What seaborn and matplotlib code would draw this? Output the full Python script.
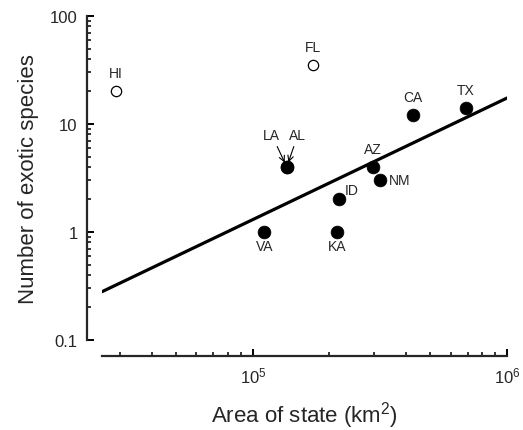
import matplotlib
matplotlib.use("Agg")
import matplotlib.pyplot as plt
import matplotlib.ticker as mticker
import numpy as np
import pandas as pd
import seaborn as sns

# ---- data ----
states = ["HI", "FL", "CA", "TX", "LA", "AL", "AZ", "NM", "ID", "VA", "KA"]
area_km2 = [2.9e4, 1.72e5, 4.25e5, 6.9e5, 1.36e5, 1.36e5, 2.96e5, 3.16e5, 2.19e5, 1.11e5, 2.15e5]
exotic_species = [20, 35, 12, 14, 4, 4, 4, 3, 2, 1, 1]
is_outlier = [True, True, False, False, False, False, False, False, False, False, False]

fit_area = [2.55e4, 1.0e6]
fit_species = [0.28, 17.4]

x_ticks = [1e5, 1e6]
y_ticks = [0.1, 1, 10, 100]
y_tick_labels = ["0.1", "1", "10", "100"]

df = pd.DataFrame({"state": states, "area": area_km2, "species": exotic_species, "outlier": is_outlier})
fit_df = pd.DataFrame({"area": fit_area, "species": fit_species})

sns.set_theme(style="ticks")
plt.rcParams["font.family"] = ["Liberation Sans", "DejaVu Sans"]
plt.rcParams["mathtext.fontset"] = "custom"
plt.rcParams["mathtext.rm"] = "Liberation Sans"
plt.rcParams["mathtext.it"] = "Liberation Sans:italic"

fig = plt.figure(figsize=(5.23, 4.31), dpi=100)
ax = fig.add_axes([102 / 523, 90 / 431, 405 / 523, 324 / 431])

sns.lineplot(data=fit_df, x="area", y="species", ax=ax, color="black", linewidth=2.3)
sns.scatterplot(data=df[~df["outlier"]], x="area", y="species", ax=ax,
                color="black", s=85, edgecolor="black", linewidth=0.5, zorder=3)
sns.scatterplot(data=df[df["outlier"]], x="area", y="species", ax=ax,
                facecolor="white", s=55, edgecolor="black", linewidth=0.9, zorder=3)

ax.set_xscale("log")
ax.set_yscale("log")
ax.set_xlim(fit_area[0], 1e6)
ax.set_ylim(0.1, 100)

ax.xaxis.set_major_locator(mticker.FixedLocator(x_ticks))
ax.xaxis.set_minor_locator(mticker.LogLocator(base=10, subs=np.arange(2, 10)))
ax.xaxis.set_minor_formatter(mticker.NullFormatter())
ax.xaxis.set_major_formatter(mticker.LogFormatterSciNotation())
ax.yaxis.set_major_locator(mticker.FixedLocator(y_ticks))
ax.yaxis.set_major_formatter(mticker.FixedFormatter(y_tick_labels))
ax.yaxis.set_minor_locator(mticker.LogLocator(base=10, subs=np.arange(2, 10)))
ax.yaxis.set_minor_formatter(mticker.NullFormatter())

for sp in ["top", "right"]:
    ax.spines[sp].set_visible(False)
ax.spines["left"].set_position(("outward", 10.5))
ax.spines["bottom"].set_position(("outward", 11.5))
ax.spines["left"].set_linewidth(1.6)
ax.spines["bottom"].set_linewidth(1.6)

ax.tick_params(which="major", direction="in", length=5, width=1.4, labelsize=12, pad=7, color="black")
ax.tick_params(which="minor", direction="in", length=2.8, width=1.1, color="black")

ax.set_xlabel("Area of state (km$^2$)", fontsize=16, labelpad=10)
ax.set_ylabel("Number of exotic species", fontsize=16, labelpad=8)

# ---- point labels ----
label_offsets = {
    "HI": (0, 18, "center"), "FL": (0, 18, "center"), "CA": (0, 18, "center"),
    "TX": (0, 18, "center"), "AZ": (0, 18, "center"), "NM": (9, 0, "left"),
    "ID": (5, 9, "left"), "VA": (0, -14, "center"), "KA": (0, -14, "center"),
}
for s, xa, ya in zip(states, area_km2, exotic_species):
    if s in label_offsets:
        dx, dy, ha = label_offsets[s]
        ax.annotate(s, (xa, ya), xytext=(dx, dy), textcoords="offset pixels",
                    ha=ha, va="center", fontsize=10)

for s, dx in [("LA", -15), ("AL", 11)]:
    i = states.index(s)
    ax.annotate(s, (area_km2[i], exotic_species[i]), xytext=(dx, 32), textcoords="offset pixels",
                ha="center", va="center", fontsize=10,
                arrowprops=dict(arrowstyle="->", color="black", lw=0.8,
                                shrinkA=1, shrinkB=3.5))

fig.savefig("out.png", dpi=100)
